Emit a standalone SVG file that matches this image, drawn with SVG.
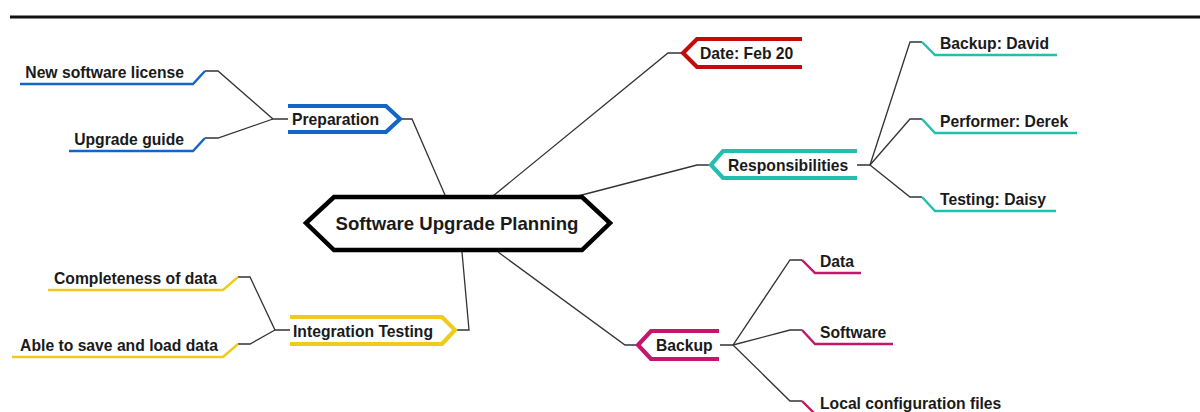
<svg xmlns="http://www.w3.org/2000/svg" width="1200" height="412" viewBox="0 0 1200 412">
<style>
text{font-family:"Liberation Sans",Arial,sans-serif;font-weight:bold;font-size:15.7px;fill:#1a1a1a}
.title{font-size:18.6px}
.c{fill:none;stroke:#333;stroke-width:1.3}
.n{fill:none;stroke-width:4.2;stroke-linejoin:miter}
.u{fill:none;stroke-width:2.4}
.blue{stroke:#1166c6}.red{stroke:#c40a0a}.teal{stroke:#22bfae}.yel{stroke:#eecb1c}.mag{stroke:#c4166a}
</style>
<rect width="1200" height="412" fill="#fff"/>
<line x1="10" y1="17" x2="1200" y2="17" stroke="#111" stroke-width="3"/>
<g id="connectors">
<polyline class="c" points="401,119 412,119 445,195"/>
<polyline class="c" points="682,53 668,53 493,196"/>
<polyline class="c" points="710,165 697,165 578,196"/>
<polyline class="c" points="456,330 469,330 462,252"/>
<polyline class="c" points="637,345 625,345 498,252"/>
<polyline class="c" points="288,119 273,119 218,71 205,71"/>
<polyline class="c" points="273,119 218,138 205,138"/>
<polyline class="c" points="290,330 275,330 250,277 238,277"/>
<polyline class="c" points="275,330 250,344 238,344"/>
<polyline class="c" points="857,165 870,165 910,42 922,42"/>
<polyline class="c" points="870,165 910,119 922,119"/>
<polyline class="c" points="870,165 910,197 922,197"/>
<polyline class="c" points="720,345 733,345 790,260 802,260"/>
<polyline class="c" points="733,345 790,330 802,330"/>
<polyline class="c" points="733,345 790,401 802,401"/>
</g>
<g id="central">
<polygon points="306,223 334,197 582,197 610,223 582,250 334,250" fill="#fff" stroke="#000" stroke-width="4.5" stroke-linejoin="miter"/>
<text class="title" x="457" y="229.5" text-anchor="middle">Software Upgrade Planning</text>
</g>
<g id="preparation">
<polyline class="n blue" points="288,106 386,106 400,119 386,132 288,132"/>
<text x="292" y="125">Preparation</text>
</g>
<g id="new-software-license">
<polyline class="u blue" points="205,71 193,84 20,84"/>
<text x="184" y="78" text-anchor="end">New software license</text>
</g>
<g id="upgrade-guide">
<polyline class="u blue" points="205,138 193,151 69,151"/>
<text x="184" y="145" text-anchor="end">Upgrade guide</text>
</g>
<g id="date">
<polyline class="n red" points="802,39 697,39 683,53 697,67 802,67"/>
<text x="700" y="58.5">Date: Feb 20</text>
</g>
<g id="responsibilities">
<polyline class="n teal" points="857,151 723,151 711,165 723,178 857,178"/>
<text x="728" y="171">Responsibilities</text>
</g>
<g id="backup-david">
<polyline class="u teal" points="922,42 935,55 1057,55"/>
<text x="940" y="49">Backup: David</text>
</g>
<g id="performer-derek">
<polyline class="u teal" points="922,119 935,133 1077,133"/>
<text x="940" y="127">Performer: Derek</text>
</g>
<g id="testing-daisy">
<polyline class="u teal" points="922,197 935,211 1056,211"/>
<text x="940" y="205">Testing: Daisy</text>
</g>
<g id="integration-testing">
<polyline class="n yel" points="290,317 442,317 455,330 442,344 290,344"/>
<text x="293" y="336.5">Integration Testing</text>
</g>
<g id="completeness">
<polyline class="u yel" points="238,277 223,290 48,290"/>
<text x="217" y="284" text-anchor="end">Completeness of data</text>
</g>
<g id="save-load">
<polyline class="u yel" points="238,344 223,357 12,357"/>
<text x="218" y="351" text-anchor="end">Able to save and load data</text>
</g>
<g id="backup">
<polyline class="n mag" points="719,331 651,331 638,345 651,359 719,359"/>
<text x="656" y="351">Backup</text>
</g>
<g id="data">
<polyline class="u mag" points="802,260 815,273 861,273"/>
<text x="820" y="267">Data</text>
</g>
<g id="software">
<polyline class="u mag" points="802,330 815,344 893,344"/>
<text x="820" y="338">Software</text>
</g>
<g id="local-config">
<polyline class="u mag" points="802,401 815,414 1010,414"/>
<text x="820" y="409">Local configuration files</text>
</g>
</svg>
